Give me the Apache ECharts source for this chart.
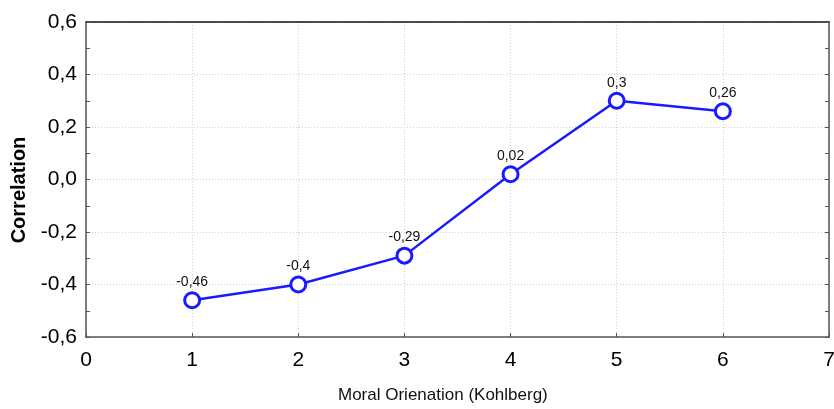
<!DOCTYPE html>
<html><head><meta charset="utf-8">
<script src="https://cdn.jsdelivr.net/npm/echarts@6/dist/echarts.min.js"></script>
<style>html,body{margin:0;padding:0;background:#fff}#c{width:834px;height:409px}</style>
</head><body><div id="c"></div>
<script>
const stages = [1, 2, 3, 4, 5, 6];
const correlations = [-0.46, -0.4, -0.29, 0.02, 0.3, 0.26];
const xTitle = 'Moral Orienation (Kohlberg)';
const yTitle = 'Correlation';

const fmt = v => String(v).replace('.', ',');
const fmtTick = v => (Math.abs(v) < 1e-9 ? 0 : v).toFixed(1).replace('.', ',');
const FONT = 'Liberation Sans, Arial, sans-serif';

const chart = echarts.init(document.getElementById('c'), null, {renderer: 'canvas'});
chart.setOption({
  animation: false,
  backgroundColor: '#fff',
  grid: {left: 86, right: 5, top: 22, bottom: 72, containLabel: false, outerBoundsMode: 'none'},
  graphic: [
    {type: 'text', left: 338, top: 387, style: {text: xTitle, font: '17px ' + FONT, fill: '#111'}},
    {type: 'text', x: 19, y: 190, rotation: Math.PI / 2,
      style: {text: yTitle, font: 'bold 20px ' + FONT, fill: '#000', align: 'center', verticalAlign: 'middle'}}
  ],
  xAxis: [{
    type: 'value', min: 0, max: 7, interval: 1,
    axisLine: {show: true, onZero: false, lineStyle: {color: '#555', width: 1.5}},
    axisTick: {show: true, inside: true, length: 4, lineStyle: {color: '#555'}},
    axisLabel: {fontFamily: FONT, fontSize: 21, color: '#000', margin: 13},
    splitLine: {show: true, lineStyle: {color: '#d0d0d0', type: [1, 2], width: 1}}
  }, {
    type: 'value', min: 0, max: 7, interval: 1, position: 'top',
    axisLine: {show: true, onZero: false, lineStyle: {color: '#111', width: 1.5}},
    axisTick: {show: false}, axisLabel: {show: false}, splitLine: {show: false}
  }],
  yAxis: [{
    type: 'value', min: -0.6, max: 0.6, interval: 0.2,
    axisLine: {show: true, onZero: false, lineStyle: {color: '#555', width: 1.5}},
    axisTick: {show: true, inside: true, length: 4, lineStyle: {color: '#555'}},
    minorTick: {show: true, splitNumber: 2, length: 4, lineStyle: {color: '#555'}},
    axisLabel: {fontFamily: FONT, fontSize: 21, color: '#000', margin: 9, formatter: fmtTick},
    splitLine: {show: true, lineStyle: {color: '#d0d0d0', type: [1, 2], width: 1}}
  }, {
    type: 'value', min: -0.6, max: 0.6, interval: 0.2, position: 'right',
    axisLine: {show: true, onZero: false, lineStyle: {color: '#555', width: 1.5}},
    axisTick: {show: true, inside: true, length: 4, lineStyle: {color: '#555'}},
    minorTick: {show: true, splitNumber: 2, length: 4, lineStyle: {color: '#555'}},
    axisLabel: {show: false}, splitLine: {show: false}
  }],
  series: [{
    type: 'line',
    data: stages.map((s, i) => [s, correlations[i]]),
    symbol: 'circle', symbolSize: 15,
    itemStyle: {color: '#fff', borderColor: '#1a1aff', borderWidth: 3},
    lineStyle: {color: '#1a1aff', width: 2.5},
    label: {show: true, position: 'top', distance: 2, fontFamily: FONT, fontSize: 14, color: '#111',
      formatter: p => fmt(p.value[1])}
  }]
});
</script></body></html>
